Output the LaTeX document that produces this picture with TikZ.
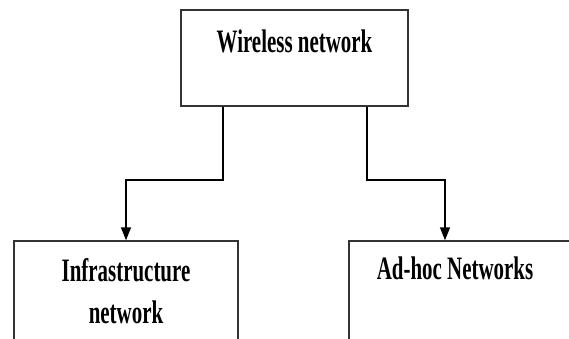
\documentclass[tikz,border=0pt]{standalone}
\usepackage{fontspec}
\setmainfont{Liberation Serif}
\newfontfamily\boxfont{Liberation Serif}[FakeStretch=0.64]
\usetikzlibrary{positioning,arrows.meta}

\begin{document}
\begin{tikzpicture}[
    x=1pt, y=1pt,
    box/.style={draw=black!80, line width=1.5pt, fill=white, minimum width=224pt, minimum height=119pt, inner sep=0pt},
    top/.style={box, minimum width=227pt, minimum height=96pt},
    lbl/.style={font=\boxfont\bfseries\fontsize{32.7}{42}\selectfont, align=center, inner sep=0pt},
    flow/.style={-{Triangle[length=13pt, width=10pt]}, line width=1.5pt, draw=black},
  ]
  \clip (0,0) rectangle (569,-339);

  % Column x-positions and row y-positions
  \def\xleft{126}  \def\xmid{294.5}  \def\xright{461}
  \def\ytop{-58}   \def\ybot{-300.5}

  % Boxes
  \node[top] (wireless) at (\xmid,\ytop) {};
  \node[box] (infra)    at (\xleft,\ybot) {};
  \node[box] (adhoc)    at (\xright,\ybot) {};

  % Labels sit in the upper part of each box (base = last line)
  \node[lbl, anchor=base] (wirelesslbl) at ([yshift=-43pt]wireless.north) {Wireless network};
  \node[lbl, anchor=base] (infralbl)    at ([yshift=-83pt]infra.north) {Infrastructure\\ network};
  \node[lbl, anchor=base] (adhoclbl)    at ([xshift=-6pt, yshift=-39pt]adhoc.north) {Ad-hoc Networks};

  % Elbow connectors
  \draw[flow] ([xshift=-71.5pt]wireless.south) -- ++(0,-73) -| (infra.north);
  \draw[flow] ([xshift=72.5pt]wireless.south) -- ++(0,-73) -| ([xshift=-16pt]adhoc.north);

\end{tikzpicture}
\end{document}
